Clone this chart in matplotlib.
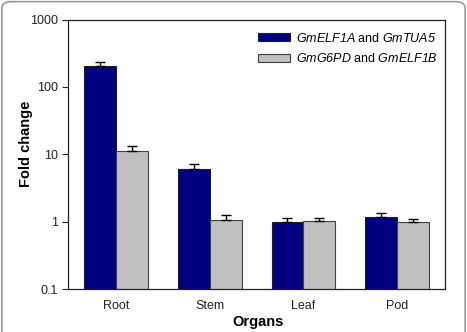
import matplotlib
matplotlib.use("Agg")
import matplotlib.pyplot as plt
import numpy as np
from matplotlib.patches import FancyBboxPatch

plt.rcParams['font.family'] = ['Liberation Sans', 'DejaVu Sans']
plt.rcParams['mathtext.fontset'] = 'custom'
plt.rcParams['mathtext.rm'] = 'Liberation Sans:italic'
plt.rcParams['mathtext.it'] = 'Liberation Sans:italic'
plt.rcParams['mathtext.bf'] = 'Liberation Sans:bold'

organs = ["Root", "Stem", "Leaf", "Pod"]
series1_label = "$\\it{GmELF1A}$ and $\\it{GmTUA5}$"
series2_label = "$\\it{GmG6PD}$ and $\\it{GmELF1B}$"
series1 = [206, 6.1, 1.0, 1.17]
series1_err = [31, 1.0, 0.15, 0.19]
series2 = [11.3, 1.05, 1.01, 1.0]
series2_err = [2.0, 0.19, 0.14, 0.11]
yticks = [0.1, 1, 10, 100, 1000]
ytick_labels = ["0.1", "1", "10", "100", "1000"]

fig = plt.figure(figsize=(4.67, 3.32), dpi=100)
border = FancyBboxPatch((0.004, -0.05), 0.992, 1.045, boxstyle="round,pad=0,rounding_size=0.02",
                        transform=fig.transFigure, facecolor="white", edgecolor="#9a9a9a",
                        linewidth=1.2, zorder=-10)
fig.patches.append(border)
ax = fig.add_axes([0.1456, 0.1295, 0.8074, 0.8115])
ax.set_zorder(5)
ax.set_facecolor("none")

x = np.arange(len(organs))
w = 0.34
navy = "#000080"
grey = "#c0c0c0"
ax.bar(x - w/2, series1, width=w, color=navy, edgecolor="#202020", linewidth=0.8, label=series1_label, zorder=2)
ax.bar(x + w/2, series2, width=w, color=grey, edgecolor="#404040", linewidth=0.8, label=series2_label, zorder=2)
ax.errorbar(x - w/2, series1, yerr=[np.zeros(4), series1_err], fmt="none", ecolor="black",
            elinewidth=1, capsize=3.5, capthick=1, zorder=3)
ax.errorbar(x + w/2, series2, yerr=[np.zeros(4), series2_err], fmt="none", ecolor="black",
            elinewidth=1, capsize=3.5, capthick=1, zorder=3)

ax.set_yscale("log")
ax.set_ylim(0.1, 1000)
ax.set_xlim(-0.51, 3.51)
ax.set_yticks(yticks)
ax.set_yticklabels(ytick_labels)
ax.yaxis.set_minor_locator(matplotlib.ticker.NullLocator())
ax.set_xticks(x)
ax.set_xticklabels(organs)
ax.tick_params(axis="x", length=0, pad=8, labelsize=9, colors="#222222")
ax.tick_params(axis="y", length=4, direction="out", labelsize=9, colors="#222222")
for s in ax.spines.values():
    s.set_linewidth(0.9)
    s.set_color("#222222")
ax.set_xlabel("Organs", fontsize=10.5, fontweight="bold")
ax.set_ylabel("Fold change", fontsize=10.5, fontweight="bold")
ax.xaxis.set_label_coords(0.505, -0.095)
ax.yaxis.set_label_coords(-0.094, 0.54)

leg = ax.legend(loc="upper right", bbox_to_anchor=(0.981, 0.955), frameon=False, fontsize=9,
                handlelength=2.55, handleheight=0.6, labelspacing=0.58, borderaxespad=0,
                borderpad=0, handletextpad=0.45)

fig.savefig("out.png", dpi=100)
